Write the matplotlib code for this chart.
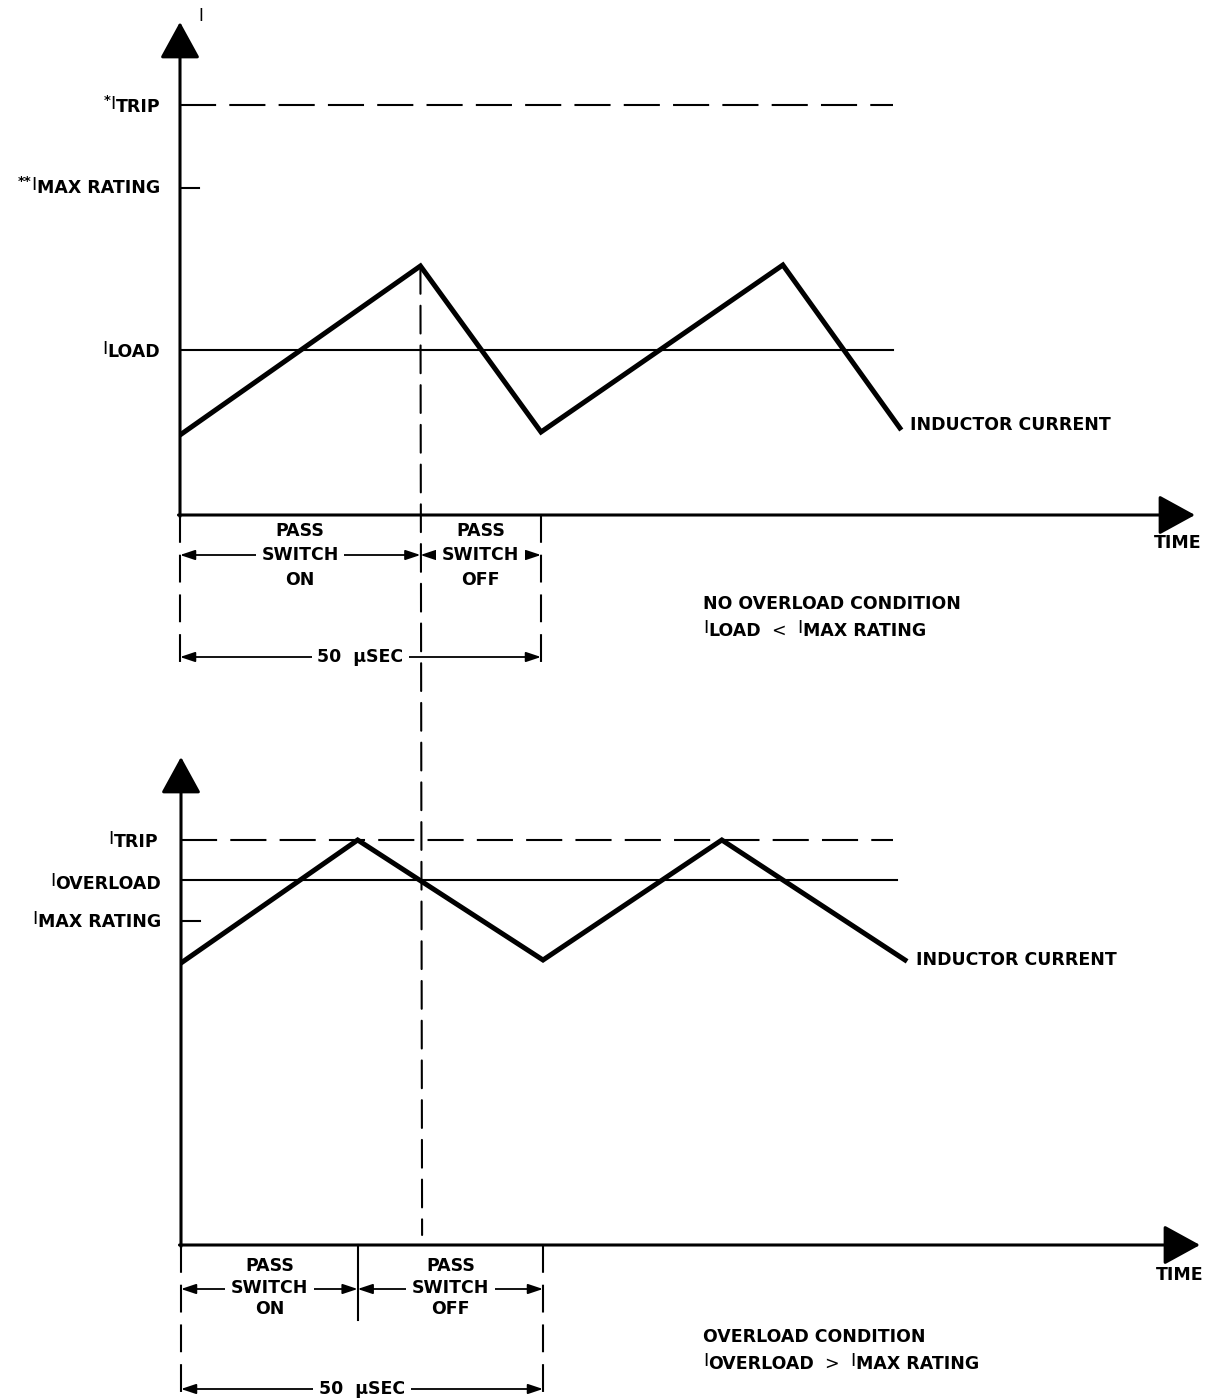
import matplotlib
matplotlib.use('Agg')
import matplotlib.pyplot as plt
from matplotlib.patches import ConnectionPatch

plt.rcParams['font.family'] = ['DejaVu Sans']
plt.rcParams['lines.scale_dashes'] = False

W, H = 1206, 1400

# ---------------- data (time in microseconds, current in arbitrary units) ----
period = 50
top_t = [0, 33.3, 50, 83.5, 99.7]
top_i = [8.0, 24.9, 8.3, 25.0, 8.7]
top_trip, top_max, top_load = 41.0, 32.7, 16.5
top_level_end = 98.8

bot_t = [0, 24.4, 50, 74.7, 100]
bot_i = [28.2, 40.5, 28.5, 40.5, 28.5]
bot_trip, bot_overload, bot_max = 40.5, 36.5, 32.4
bot_trip_end, bot_overload_end = 98.3, 98.9
max_tick_len = 2.6

# ---------------- layout helpers ----------------
def ta(px):
    return (px - 180) / 7.22


def ca(py):
    return (515 - py) / 10.0


def tb(px):
    return (px - 181) / 7.24


def cb(py):
    return (1245 - py) / 10.0


DASH_H = (0, (26, 9.5))
DASH_V = (0, (20, 8.6))
FS = 12.5

fig = plt.figure(figsize=(W / 100, H / 100), dpi=100)
fig.patch.set_facecolor('white')

ax1 = fig.add_axes([180 / W, 1 - 515 / H, 1015 / W, 493 / H])
ax1.set_xlim(0, 1015 / 7.22)
ax1.set_ylim(0, 49.3)
ax1.axis('off')

ax2 = fig.add_axes([181 / W, 1 - 1245 / H, 1019 / W, 488 / H])
ax2.set_xlim(0, 1019 / 7.24)
ax2.set_ylim(0, 48.8)
ax2.axis('off')


def axis_arrows(ax):
    props = dict(arrowstyle='-|>,head_length=2.28,head_width=1.25',
                 mutation_scale=10, lw=2.2, color='black',
                 shrinkA=0, shrinkB=0)
    ax.annotate('', xy=(0, 1), xytext=(0, -0.003), xycoords='axes fraction',
                arrowprops=props, annotation_clip=False)
    ax.annotate('', xy=(1, 0), xytext=(-0.0015, 0), xycoords='axes fraction',
                arrowprops=props, annotation_clip=False)


def rich(ax, px, py, pieces, ha='left', size=FS):
    seq = pieces if ha == 'left' else pieces[::-1]
    prev, prev_dy = None, 0
    for txt, kind in seq:
        if kind == 'b':
            fs, fw, dy = size, 'bold', 0
        elif kind == 'i':
            fs, fw, dy = size * 1.05, 'normal', 2.2
        elif kind == 'r':
            fs, fw, dy = size, 'normal', 0
        else:
            fs, fw, dy = size * 0.75, 'bold', 5
        kw = dict(ha=ha, va='center', fontsize=fs, fontweight=fw,
                  textcoords='offset points', annotation_clip=False)
        if prev is None:
            a = ax.annotate(txt, xy=(px, H - py), xycoords='figure pixels',
                            xytext=(0, dy), **kw)
        else:
            a = ax.annotate(txt, xy=(1 if ha == 'left' else 0, 0.5),
                            xycoords=prev, xytext=(0, dy - prev_dy), **kw)
        prev, prev_dy = a, dy


def dim_arrow(ax, t0, t1, y):
    ax.annotate('', xy=(t0, y), xytext=(t1, y), xycoords='data',
                arrowprops=dict(arrowstyle='<|-|>,head_length=0.9,head_width=0.3',
                                mutation_scale=10, lw=1.3, color='black',
                                shrinkA=0, shrinkB=0),
                annotation_clip=False)


def ctext(ax, t, y, s, box=False):
    kw = dict(ha='center', va='center', fontsize=FS, fontweight='bold',
              zorder=6, clip_on=False)
    if box:
        kw['bbox'] = dict(fc='white', ec='none', pad=4)
    ax.text(t, y, s, **kw)


# ================= TOP PANEL =================
axis_arrows(ax1)
ax1.plot([0, top_level_end], [top_trip, top_trip], color='black', lw=1.5,
         linestyle=DASH_H)
ax1.plot([0, max_tick_len], [top_max, top_max], color='black', lw=1.5)
ax1.plot([0, top_level_end], [top_load, top_load], color='black', lw=1.5)
ax1.plot(top_t, top_i, color='black', lw=3.6, solid_joinstyle='miter', zorder=4)

# dimension lines
for t in [0, period]:
    ax1.plot([t, t], [0, ca(665)], color='black', lw=1.5, linestyle=DASH_V,
             clip_on=False)
dim_arrow(ax1, 0, top_t[1], ca(555))
dim_arrow(ax1, period, top_t[1], ca(555))
dim_arrow(ax1, 0, period, ca(657))
for tm, lab in [(top_t[1] / 2, 'ON'), ((top_t[1] + period) / 2, 'OFF')]:
    ctext(ax1, tm, ca(531), 'PASS')
    ctext(ax1, tm, ca(555), 'SWITCH', box=True)
    ctext(ax1, tm, ca(580), lab)
ctext(ax1, period / 2, ca(657), '50  \u03bcSEC', box=True)

# long dashed vertical line from top peak to bottom axis
con = ConnectionPatch(xyA=(top_t[1], top_i[1]), coordsA=ax1.transData,
                      xyB=(top_t[1], cb(1235)), coordsB=ax2.transData,
                      color='black', lw=1.5, linestyle=DASH_V)
fig.add_artist(con)

fig.text(201 / W, 1 - 16 / H, 'I', fontsize=12, ha='center', va='center')
rich(ax1, 160, 107, [('*', 's'), ('I', 'i'), ('TRIP', 'b')], ha='right')
rich(ax1, 160, 188, [('**', 's'), ('I', 'i'), ('MAX RATING', 'b')], ha='right')
rich(ax1, 160, 352, [('I', 'i'), ('LOAD', 'b')], ha='right')
rich(ax1, 910, 425, [('INDUCTOR CURRENT', 'b')])
fig.text(1178 / W, 1 - 543 / H, 'TIME', fontsize=FS, fontweight='bold',
         ha='center', va='center')
rich(ax1, 703, 604, [('NO OVERLOAD CONDITION', 'b')])
rich(ax1, 703, 631, [('I', 'i'), ('LOAD', 'b'), ('  <  ', 'r'), ('I', 'i'),
                     ('MAX RATING', 'b')])

# ================= BOTTOM PANEL =================
axis_arrows(ax2)
ax2.plot([0, bot_trip_end], [bot_trip, bot_trip], color='black', lw=1.5,
         linestyle=DASH_H)
ax2.plot([0, bot_overload_end], [bot_overload, bot_overload], color='black', lw=1.5)
ax2.plot([0, max_tick_len], [bot_max, bot_max], color='black', lw=1.5)
ax2.plot(bot_t, bot_i, color='black', lw=3.6, solid_joinstyle='miter', zorder=4)

for t in [0, period]:
    ax2.plot([t, t], [0, cb(1397)], color='black', lw=1.5, linestyle=DASH_V,
             clip_on=False)
ax2.plot([bot_t[1], bot_t[1]], [0, cb(1320)], color='black', lw=1.5,
         clip_on=False)
dim_arrow(ax2, 0, bot_t[1], cb(1289))
dim_arrow(ax2, period, bot_t[1], cb(1289))
dim_arrow(ax2, 0, period, cb(1389))
for tm, lab in [(bot_t[1] / 2, 'ON'), ((bot_t[1] + period) / 2, 'OFF')]:
    ctext(ax2, tm, cb(1266), 'PASS')
    ctext(ax2, tm, cb(1288), 'SWITCH', box=True)
    ctext(ax2, tm, cb(1309), lab)
ctext(ax2, period / 2, cb(1389), '50  \u03bcSEC', box=True)

rich(ax2, 158, 842, [('I', 'i'), ('TRIP', 'b')], ha='right')
rich(ax2, 161, 884, [('I', 'i'), ('OVERLOAD', 'b')], ha='right')
rich(ax2, 161, 922, [('I', 'i'), ('MAX RATING', 'b')], ha='right')
rich(ax2, 916, 960, [('INDUCTOR CURRENT', 'b')])
fig.text(1180 / W, 1 - 1275 / H, 'TIME', fontsize=FS, fontweight='bold',
         ha='center', va='center')
rich(ax2, 703, 1337, [('OVERLOAD CONDITION', 'b')])
rich(ax2, 703, 1364, [('I', 'i'), ('OVERLOAD', 'b'), ('  >  ', 'r'), ('I', 'i'),
                      ('MAX RATING', 'b')])

fig.savefig('out.png', dpi=100, facecolor='white')
